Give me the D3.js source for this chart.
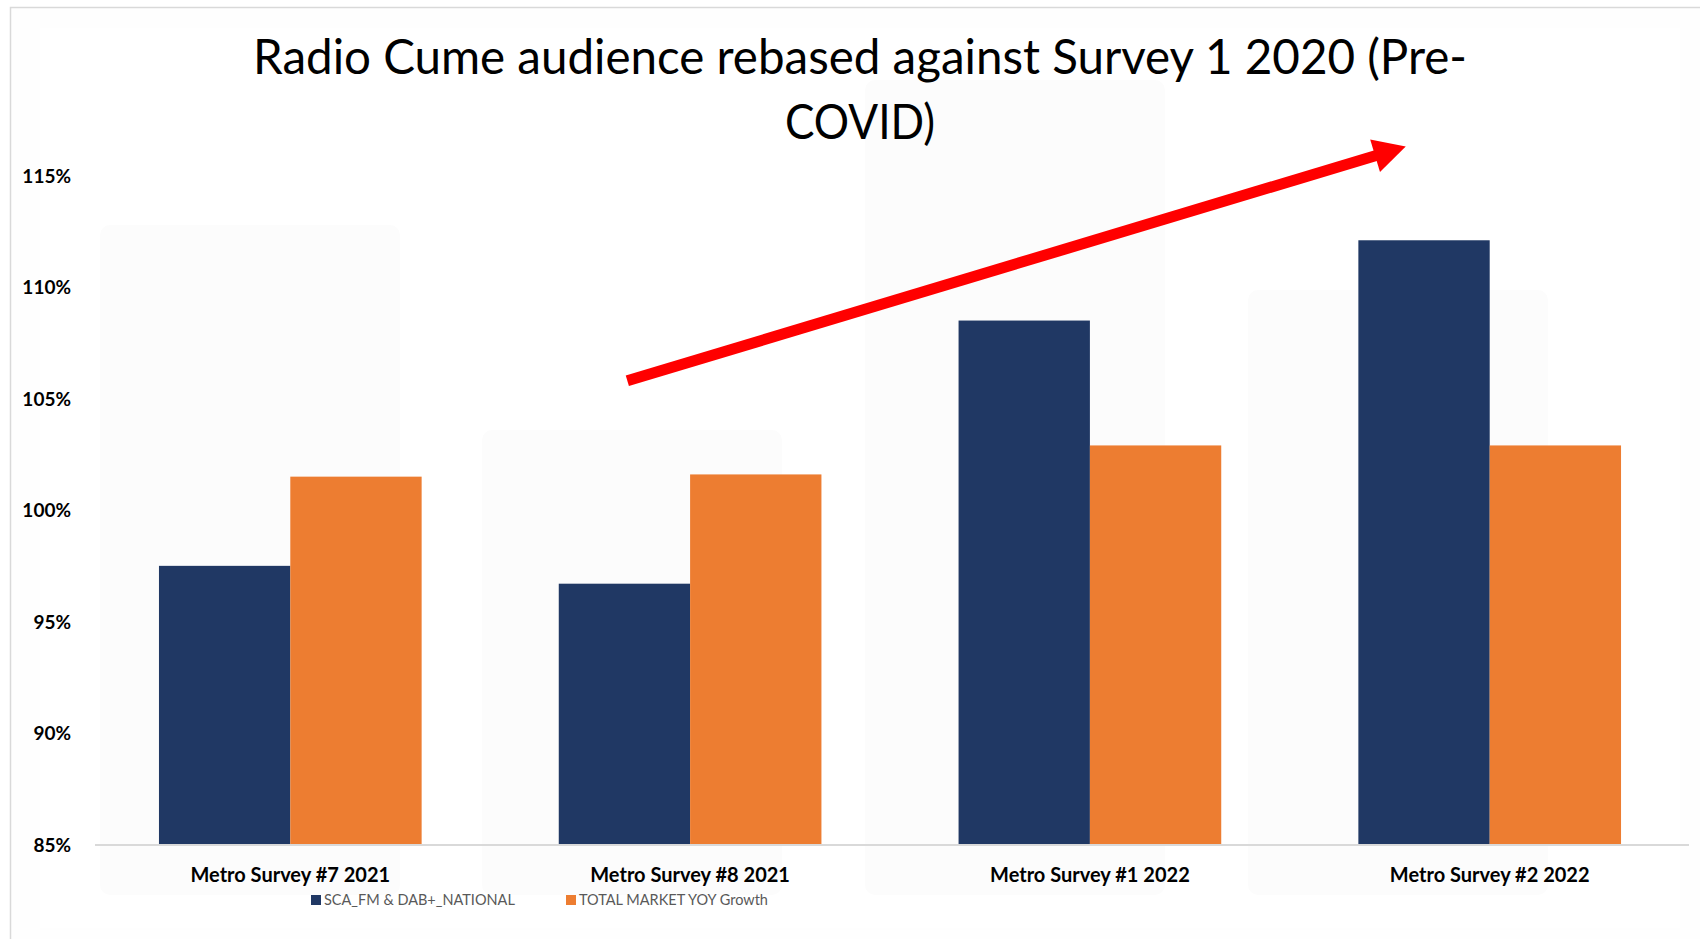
<!DOCTYPE html>
<html>
<head>
<meta charset="utf-8">
<script src="https://cdn.jsdelivr.net/npm/d3@7"></script>
<style>
  html, body { margin: 0; padding: 0; background: #ffffff; }
  svg { display: block; }
</style>
</head>
<body>
<svg id="chart" width="1700" height="939"></svg>
<script>
// ---- Data ----
const categories = ["Metro Survey #7 2021", "Metro Survey #8 2021", "Metro Survey #1 2022", "Metro Survey #2 2022"];
const seriesNames = ["SCA_FM & DAB+_NATIONAL", "TOTAL MARKET YOY Growth"];
const scaValues = [0.975, 0.967, 1.085, 1.121];
const marketValues = [1.015, 1.016, 1.029, 1.029];
const yTicks = [0.85, 0.90, 0.95, 1.00, 1.05, 1.10, 1.15];
const titleLines = ["Radio Cume audience rebased against Survey 1 2020 (Pre-", "COVID)"];
// trend arrow annotation in data space (category index, value)
const arrowStart = { i: 0.843, v: 1.058 };
const arrowEnd = { i: 2.79, v: 1.163 };

const colors = ["#203864", "#ED7D31"];

const svg = d3.select("#chart");
const W = 1700, H = 939;

// background & frame
svg.append("rect").attr("x", 0).attr("y", 0).attr("width", W).attr("height", H).attr("fill", "#ffffff");
svg.append("rect").attr("x", 10.5).attr("y", 7.5).attr("width", W).attr("height", H)
  .attr("fill", "#fefefe").attr("stroke", "#d9d9d9").attr("stroke-width", 1.5);
svg.append("rect").attr("x", 40).attr("y", 28).attr("width", 1640).attr("height", 900).attr("fill", "#ffffff");
// faint ghost panels
const ghost = svg.append("g").attr("fill", "#fcfcfc");
ghost.append("rect").attr("x", 100).attr("y", 225).attr("width", 300).attr("height", 670).attr("rx", 10);
ghost.append("rect").attr("x", 482).attr("y", 430).attr("width", 300).attr("height", 465).attr("rx", 10);
ghost.append("rect").attr("x", 865).attr("y", 80).attr("width", 300).attr("height", 815).attr("rx", 10);
ghost.append("rect").attr("x", 1248).attr("y", 290).attr("width", 300).attr("height", 605).attr("rx", 10);

// ---- Scales ----
const x0 = d3.scaleBand().domain(categories).range([91, 1689]).paddingInner(0.343).paddingOuter(0.17);
const x1 = d3.scaleBand().domain([0, 1]).range([0, x0.bandwidth()]).padding(0);
const y = d3.scaleLinear().domain([0.85, 1.15]).range([844.6, 175.6]);
const xIdx = d3.scaleLinear().domain([0, 1]).range([x0(categories[0]) + x0.bandwidth() / 2, x0(categories[1]) + x0.bandwidth() / 2]);

// ---- Title ----
const title = svg.append("g").attr("font-family", "Lato, 'Open Sans', sans-serif").attr("fill", "#000");
title.append("text").attr("x", 860).attr("y", 74).attr("text-anchor", "middle")
  .attr("font-size", 48).attr("textLength", 1214).attr("lengthAdjust", "spacingAndGlyphs").text(titleLines[0]);
title.append("text").attr("x", 860).attr("y", 139).attr("text-anchor", "middle")
  .attr("font-size", 48).attr("textLength", 150).attr("lengthAdjust", "spacingAndGlyphs").text(titleLines[1]);

// ---- Bars ----
const rows = categories.map((c, i) => ({ c, vals: [scaValues[i], marketValues[i]] }));
const groups = svg.append("g").selectAll("g").data(rows).join("g")
  .attr("transform", d => `translate(${x0(d.c)},0)`);
groups.selectAll("rect").data(d => d.vals.map((v, k) => ({ v, k }))).join("rect")
  .attr("x", d => x1(d.k))
  .attr("y", d => y(d.v))
  .attr("width", x1.bandwidth())
  .attr("height", d => y(0.85) - y(d.v))
  .attr("fill", d => colors[d.k]);

// ---- Axes ----
const yAxis = d3.axisLeft(y).tickValues(yTicks).tickFormat(d3.format(".0%")).tickSize(0).tickPadding(0);
const yg = svg.append("g").attr("transform", "translate(71,0)").call(yAxis);
yg.select(".domain").remove();
yg.selectAll("text").attr("font-family", "Lato, sans-serif").attr("font-weight", "bold")
  .attr("font-size", 19).attr("fill", "#000").attr("dy", "0.35em");

const xAxis = d3.axisBottom(x0).tickSize(0).tickPadding(0);
const xg = svg.append("g").attr("transform", `translate(0,${y(0.85)})`).call(xAxis);
xg.select(".domain").attr("stroke", "#d9d9d9").attr("stroke-width", 2)
  .attr("d", `M95,0.5H1689`);
xg.selectAll("text").attr("font-family", "Lato, sans-serif").attr("font-weight", "bold")
  .attr("font-size", 20).attr("fill", "#000").attr("y", 37).attr("dy", 0);

// ---- Legend ----
const legendX = [311, 566];
const legend = svg.append("g").selectAll("g").data(seriesNames).join("g")
  .attr("transform", (d, i) => `translate(${legendX[i]},900)`);
legend.append("rect").attr("x", 0).attr("y", -5).attr("width", 10).attr("height", 10)
  .attr("fill", (d, i) => colors[i]);
legend.append("text").attr("x", 13).attr("y", 5)
  .attr("font-family", "Lato, sans-serif").attr("font-size", 14.5).attr("fill", "#595959").text(d => d);

// ---- Trend arrow ----
const sx = xIdx(arrowStart.i), sy = y(arrowStart.v);
const ex = xIdx(arrowEnd.i), ey = y(arrowEnd.v);
const ang = Math.atan2(ey - sy, ex - sx);
const headLen = 32, headHalf = 17;
const bx = ex - headLen * Math.cos(ang), by = ey - headLen * Math.sin(ang);
svg.append("line").attr("x1", sx).attr("y1", sy).attr("x2", bx + 2 * Math.cos(ang)).attr("y2", by + 2 * Math.sin(ang))
  .attr("stroke", "#FF0000").attr("stroke-width", 11);
const px = -Math.sin(ang), py = Math.cos(ang);
svg.append("path")
  .attr("d", `M${ex},${ey}L${bx + headHalf * px},${by + headHalf * py}L${bx - headHalf * px},${by - headHalf * py}Z`)
  .attr("fill", "#FF0000");
</script>
</body>
</html>
